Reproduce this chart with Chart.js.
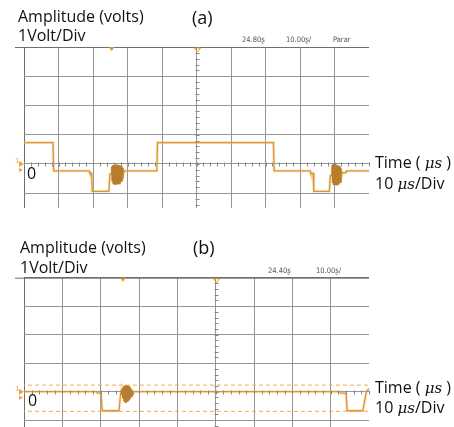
<!DOCTYPE html>
<html>
<head>
<meta charset="utf-8">
<script src="https://cdn.jsdelivr.net/npm/chart.js@4.4.1/dist/chart.umd.min.js"></script>
<style>
  body { margin: 0; background: #fff; }
  #wrap { position: relative; width: 454px; height: 427px; overflow: hidden; font-family: "Open Sans", sans-serif; }
  canvas { position: absolute; left: 0; }
  .t { position: absolute; white-space: nowrap; color: #111; font-size: 16px; line-height: 1; }
  .s { position: absolute; white-space: nowrap; color: #555; font-family: "DejaVu Sans Condensed", "DejaVu Sans", sans-serif; font-size: 7.5px; line-height: 1; }
  .mu { font-family: "DejaVu Serif", serif; font-style: italic; font-size: 15px; }
</style>
</head>
<body>
<div id="wrap">
  <canvas id="chartA"></canvas>
  <canvas id="chartB"></canvas>

  <div class="t" style="left:18px;top:8px">Amplitude (volts)</div>
  <div class="t" style="left:192px;top:8px;font-size:18px">(a)</div>
  <div class="t" style="left:18px;top:27px">1Volt/Div</div>
  <div class="s" style="left:242px;top:36px">24.80ʂ</div>
  <div class="s" style="left:286px;top:36px">10.00ʂ/</div>
  <div class="s" style="left:333px;top:36px">Parar</div>
  <div class="t" style="left:27px;top:165px">0</div>
  <div class="t" style="left:375px;top:154px">Time ( <span class="mu">μs</span> )</div>
  <div class="t" style="left:375px;top:175px">10 <span class="mu">μs</span>/Div</div>

  <div class="t" style="left:20px;top:239px">Amplitude (volts)</div>
  <div class="t" style="left:193px;top:238px;font-size:18px">(b)</div>
  <div class="t" style="left:20px;top:259px">1Volt/Div</div>
  <div class="s" style="left:268px;top:267px">24.40ʂ</div>
  <div class="s" style="left:316px;top:267px">10.00ʂ/</div>
  <div class="t" style="left:28px;top:392px">0</div>
  <div class="t" style="left:375px;top:379px">Time ( <span class="mu">μs</span> )</div>
  <div class="t" style="left:375px;top:399px">10 <span class="mu">μs</span>/Div</div>
</div>
<script>
// panel (a) trace, time in us, amplitude in volts
const timeA = [
  0, 8.4, 8.6, 18.9, 19.1, 19.6, 19.8, 20.3, 24.6, 24.9, 25.3,
  25.5, 25.65, 25.8, 25.95, 26.1, 26.25, 26.4, 26.55, 26.7, 26.85, 27.0,
  27.15, 27.3, 27.45, 27.6, 27.75, 27.9, 28.05, 28.2, 28.35, 28.5, 28.65,
  28.9, 29.2, 38.5, 38.7, 72.3, 72.5, 82.9, 83.1, 83.8, 84.0, 84.3, 88.5, 88.8, 89.2,
  89.4, 89.55, 89.7, 89.85, 90.0, 90.15, 90.3, 90.45, 90.6,
  90.75, 90.9, 91.05, 91.2, 91.35, 91.5, 91.65, 91.8, 91.95,
  92.2, 93.3, 93.5, 100
];
const voltA = [
  0.73, 0.73, -0.24, -0.24, -0.32, -0.32, -0.94, -0.94, -0.94, -0.35, -0.35,
  -0.1, -0.6, -0.05, -0.7, -0.1, -0.68, -0.02, -0.72, -0.08, -0.65, -0.03,
  -0.7, -0.1, -0.66, -0.05, -0.7, -0.12, -0.62, -0.08, -0.6, -0.15, -0.5,
  -0.3, -0.24, -0.24, 0.73, 0.73, -0.24, -0.24, -0.32, -0.32, -0.94, -0.94, -0.94, -0.4, -0.4,
  -0.05, -0.65, 0.0, -0.72, -0.08, -0.7, -0.02, -0.68, -0.1,
  -0.7, -0.04, -0.66, -0.1, -0.62, -0.08, -0.6, -0.15, -0.5,
  -0.3, -0.3, -0.24, -0.24
];
const burstsA = [[25.4, 28.8], [89.3, 92.1]];

// panel (b) trace
const timeB = [
  0, 18.9, 19.2, 20.1, 20.4, 24.8, 25.1,
  25.4, 25.55, 25.7, 25.85, 26.0, 26.15, 26.3, 26.45, 26.6, 26.75, 26.9,
  27.05, 27.2, 27.35, 27.5, 27.65, 27.8, 27.95, 28.1, 28.25, 28.4,
  28.6, 82.3, 82.6, 84.0, 84.3, 88.4, 89.3, 89.7, 90
];
const voltB = [
  0, 0, -0.05, -0.05, -0.67, -0.67, -0.2,
  0.05, -0.1, 0.12, -0.2, 0.18, -0.3, 0.22, -0.35, 0.23, -0.36, 0.22,
  -0.34, 0.2, -0.3, 0.15, -0.25, 0.1, -0.15, 0.05, -0.08, 0.02,
  0, 0, -0.05, -0.05, -0.67, -0.67, 0, 0.06, 0.1
];
const burstsB = [[25.3, 28.5]];
const cursorsB = [0.23, -0.69];

const gridXA = [0, 10, 20, 30, 40, 50, 60, 70, 80, 90];
const gridXB = [0, 10, 20, 30, 40, 50, 60, 70, 80];
const gridYA = [-1, 0, 1, 2, 3, 4];
const gridYB = [-1, 0, 1, 2, 3, 4];

const TRACE = '#cf8412';
const BURST = '#9a5c0a';
const GLOW = 'rgba(236,186,110,0.35)';

const pts = (xs, ys) => xs.map((x, i) => ({ x: x, y: ys[i] }));
const inBurst = (bursts, x) => bursts.some(b => x >= b[0] && x <= b[1]);

const scopeDecor = {
  id: 'scopeDecor',
  afterDraw(chart, args, opts) {
    const ctx = chart.ctx, a = chart.chartArea;
    const xs = chart.scales.x, ys = chart.scales.y;
    ctx.save();
    // top line runs a bit past the left edge
    ctx.strokeStyle = '#6e6e6e';
    ctx.lineWidth = 1;
    ctx.beginPath();
    ctx.moveTo(a.left - 9, a.top + 0.5);
    ctx.lineTo(a.right, a.top + 0.5);
    ctx.stroke();
    // minor ticks on the centre axes
    ctx.strokeStyle = '#8a8a8a';
    const cx = Math.round(xs.getPixelForValue(50)) + 0.5;
    ctx.beginPath();
    for (let v = Math.ceil(ys.min * 5) / 5; v <= ys.max; v += 0.2) {
      const py = Math.round(ys.getPixelForValue(v)) + 0.5;
      ctx.moveTo(cx - 2, py); ctx.lineTo(cx + 2, py);
    }
    const cy = Math.round(ys.getPixelForValue(0)) + 0.5;
    for (let t = 0; t <= xs.max; t += 2) {
      const px = Math.round(xs.getPixelForValue(t)) + 0.5;
      ctx.moveTo(px, cy - 2); ctx.lineTo(px, cy + 2);
    }
    ctx.stroke();
    // trigger markers
    ctx.fillStyle = '#e8901e';
    const tx = xs.getPixelForValue(opts.trig);
    ctx.beginPath();
    ctx.moveTo(tx - 3, a.top); ctx.lineTo(tx + 3, a.top); ctx.lineTo(tx, a.top + 4); ctx.closePath();
    ctx.fill();
    ctx.strokeStyle = '#e8901e';
    ctx.beginPath();
    ctx.moveTo(cx - 3, a.top + 1); ctx.lineTo(cx + 3, a.top + 1); ctx.lineTo(cx, a.top + 5); ctx.closePath();
    ctx.stroke();
    // channel marker on the left
    const zy = ys.getPixelForValue(0);
    ctx.fillStyle = '#f0a040';
    ctx.font = '7px "DejaVu Sans"';
    ctx.fillText('1', a.left - 9, zy - 1);
    ctx.beginPath();
    ctx.moveTo(a.left - 5, zy - 3); ctx.lineTo(a.left, zy); ctx.lineTo(a.left - 5, zy + 3); ctx.closePath();
    ctx.fill();
    ctx.beginPath();
    ctx.moveTo(a.left - 5, zy + 4); ctx.lineTo(a.left - 1, zy + 6); ctx.lineTo(a.left - 5, zy + 8); ctx.closePath();
    ctx.fill();
    ctx.restore();
  }
};

function scopeChart(id, top, height, xMax, yMin, padTop, trace, bursts, gridX, gridY, trig, cursors) {
  const cv = document.getElementById(id);
  cv.style.top = top + 'px';
  cv.width = 454; cv.height = height;
  const both = (c) => inBurst(bursts, c.p0.parsed.x) && inBurst(bursts, c.p1.parsed.x);
  const datasets = [
    { data: trace, borderColor: GLOW, borderWidth: 3, pointRadius: 0, tension: 0 },
    {
      data: trace, borderColor: TRACE, borderWidth: 1.3, pointRadius: 0, tension: 0,
      segment: { borderColor: c => both(c) ? BURST : TRACE, borderWidth: c => both(c) ? 2 : 1.3 }
    }
  ];
  (cursors || []).forEach(v => datasets.unshift({
    data: [{ x: -0.8, y: v }, { x: xMax, y: v }], borderColor: '#f5a849', borderWidth: 1,
    borderDash: [4, 3], pointRadius: 0
  }));
  return new Chart(cv, {
    type: 'line',
    data: { datasets: datasets },
    options: {
      responsive: false,
      animation: false,
      layout: { padding: { left: 24, right: 85, top: padTop, bottom: 0 } },
      plugins: { legend: { display: false }, tooltip: { enabled: false }, scopeDecor: { trig: trig } },
      scales: {
        x: {
          type: 'linear', min: 0, max: xMax,
          afterBuildTicks: s => { s.ticks = gridX.map(v => ({ value: v })); },
          ticks: { display: false },
          grid: { color: c => c.tick.value === 0 ? '#6e6e6e' : '#959595', drawTicks: false, lineWidth: 1 },
          border: { display: false }
        },
        y: {
          type: 'linear', min: yMin, max: 4,
          afterBuildTicks: s => { s.ticks = gridY.map(v => ({ value: v })); },
          ticks: { display: false },
          grid: { color: c => c.tick.value === 4 ? '#6e6e6e' : '#959595', drawTicks: false, lineWidth: 1 },
          border: { display: false }
        }
      }
    },
    plugins: [scopeDecor]
  });
}

scopeChart('chartA', 0, 208, 100, -1.51, 47, pts(timeA, voltA), burstsA, gridXA, gridYA, 25.4, null);
scopeChart('chartB', 215, 212, 90, -1.24, 62.7, pts(timeB, voltB), burstsB, gridXB, gridYB, 25.8, cursorsB);
</script>
</body>
</html>
